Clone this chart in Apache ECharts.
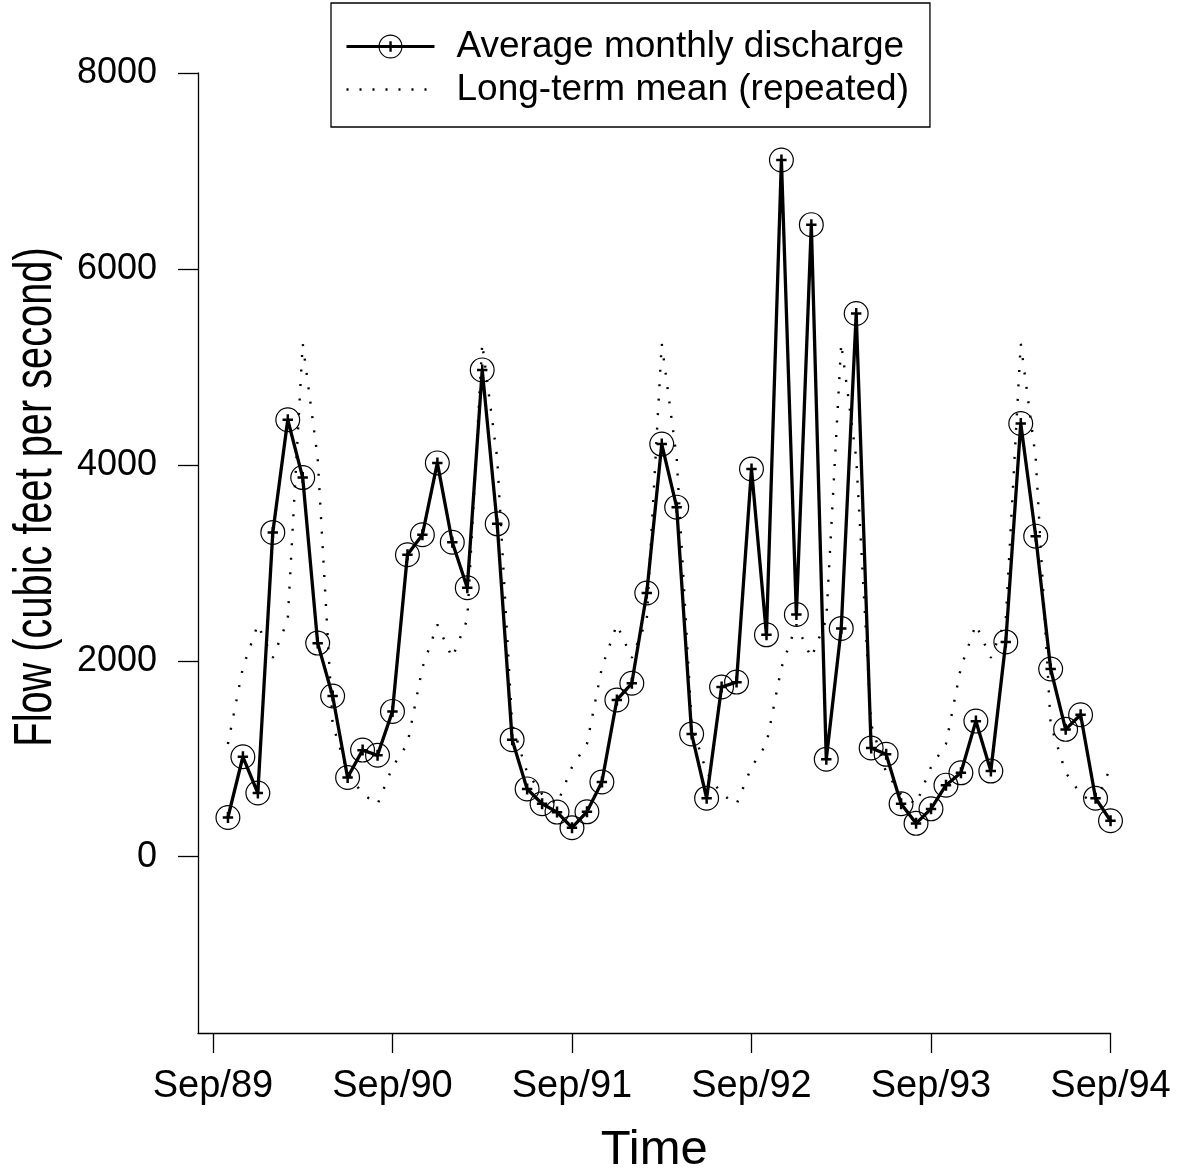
<!DOCTYPE html>
<html><head><meta charset="utf-8">
<script src="https://cdn.jsdelivr.net/npm/echarts@6/dist/echarts.min.js"></script>
<style>html,body{margin:0;padding:0;background:#fff}#c{width:1181px;height:1174px}</style>
</head><body><div id="c"></div>
<script>
// Month index: 0 = Sep/89, 1 = Oct/89 ... 60 = Sep/94
const firstMonthIndex = 1;
const discharge = [
  400, 1020, 650, 3310, 4460, 3870, 2180, 1640, 808, 1088, 1035, 1483,
  3082, 3286, 4020, 3210, 2745, 4969, 3398, 1194, 692, 540, 455, 296,
  458, 763, 1600, 1770, 2692, 4212, 3568, 1253, 597, 1732, 1782, 3958,
  2265, 7112, 2472, 6452, 995, 2330, 5545, 1110, 1045, 540, 340, 488,
  730, 856, 1384, 874, 2192, 4422, 3272, 1916, 1300, 1449, 597, 367
];
const longTermMean = [
  1150, 1930, 2370, 2030, 2420, 5240, 4070, 1350, 860, 640, 535, 915,
  1150, 1930, 2370, 2030, 2420, 5240, 4070, 1350, 860, 640, 535, 915,
  1150, 1930, 2370, 2030, 2420, 5240, 4070, 1350, 860, 640, 535, 915,
  1150, 1930, 2370, 2030, 2420, 5240, 4070, 1350, 860, 640, 535, 915,
  1150, 1930, 2370, 2030, 2420, 5240, 4070, 1350, 860, 640, 535, 915
];
const xTickValues = [0, 12, 24, 36, 48, 60];
const xTickLabels = ['Sep/89', 'Sep/90', 'Sep/91', 'Sep/92', 'Sep/93', 'Sep/94'];
const yTickValues = [0, 2000, 4000, 6000, 8000];
const seriesNames = ['Average monthly discharge', 'Long-term mean (repeated)'];

const FONT = '"Liberation Sans", Arial, Helvetica, sans-serif';
const circlePlus = 'path://M25,12.5A12.5,12.5,0,1,1,0,12.5A12.5,12.5,0,1,1,25,12.5Z' +
  'M23.8,12.5A11.3,11.3,0,1,0,1.2,12.5A11.3,11.3,0,1,0,23.8,12.5Z' +
  'M7.3,11.3L17.7,11.3L17.7,13.8L7.3,13.8Z' +
  'M11.3,7L13.8,7L13.8,18L11.3,18Z';

const chart = echarts.init(document.getElementById('c'), null, {renderer: 'canvas'});
chart.setOption({
  animation: false,
  backgroundColor: '#fff',
  grid: {left: 198, right: 70.5, top: 73, bottom: 141, containLabel: false, outerBoundsMode: 'none'},
  legend: {
    data: [
      {name: seriesNames[0], lineStyle: {width: 3, color: '#000'}},
      {name: seriesNames[1], lineStyle: {width: 2.4, color: '#000', type: [2, 11]}}
    ],
    orient: 'vertical',
    left: 331, top: 3,
    padding: [25, 21, 19, 14],
    itemGap: 6,
    itemWidth: 88, itemHeight: 30,
    borderColor: '#000', borderWidth: 1.3, borderRadius: 0,
    backgroundColor: '#fff',
    textStyle: {fontSize: 37, fontFamily: FONT, color: '#000', padding: [0, 0, 0, 17]},
    selectedMode: false
  },
  xAxis: {
    type: 'value', min: -1, max: 60,
    name: 'Time', nameLocation: 'middle', nameGap: 93,
    nameTextStyle: {fontSize: 49, fontFamily: FONT, color: '#000'},
    axisLine: {show: true, onZero: false, lineStyle: {color: '#000', width: 1.3}},
    axisTick: {show: true, inside: false, length: 20, customValues: xTickValues,
      lineStyle: {color: '#000', width: 1.3}},
    axisLabel: {show: true, margin: 35, fontSize: 38, fontFamily: FONT, color: '#000',
      customValues: xTickValues,
      formatter: v => xTickLabels[xTickValues.indexOf(Math.round(v))] || ''},
    splitLine: {show: false}
  },
  yAxis: {
    type: 'value', min: -1800, max: 8000,
    axisLine: {show: true, onZero: false, lineStyle: {color: '#000', width: 1.3}},
    axisTick: {show: true, inside: false, length: 20, customValues: yTickValues,
      lineStyle: {color: '#000', width: 1.3}},
    axisLabel: {show: true, margin: 41, fontSize: 36, fontFamily: FONT, color: '#000',
      customValues: yTickValues, formatter: v => String(Math.round(v))},
    splitLine: {show: false}
  },
  graphic: [{
    type: 'text', x: 36, y: 497, rotation: Math.PI / 2, scaleX: 0.75,
    style: {text: 'Flow (cubic feet per second)', font: '53px ' + FONT, fill: '#000',
      align: 'center', verticalAlign: 'middle'}
  }],
  series: [
    {
      name: seriesNames[1], type: 'line', z: 2,
      data: longTermMean.map((v, i) => [i + firstMonthIndex, v]),
      symbol: 'none', showSymbol: false,
      lineStyle: {color: '#000', width: 2.4, type: [2, 12.5], cap: 'butt'},
      itemStyle: {color: 'rgba(0,0,0,0)'}
    },
    {
      name: seriesNames[0], type: 'line', z: 3,
      data: discharge.map((v, i) => [i + firstMonthIndex, v]),
      symbol: circlePlus, symbolSize: 25, showSymbol: true,
      lineStyle: {color: '#000', width: 3.3},
      itemStyle: {color: '#000', borderWidth: 0}
    }
  ]
});
</script></body></html>
